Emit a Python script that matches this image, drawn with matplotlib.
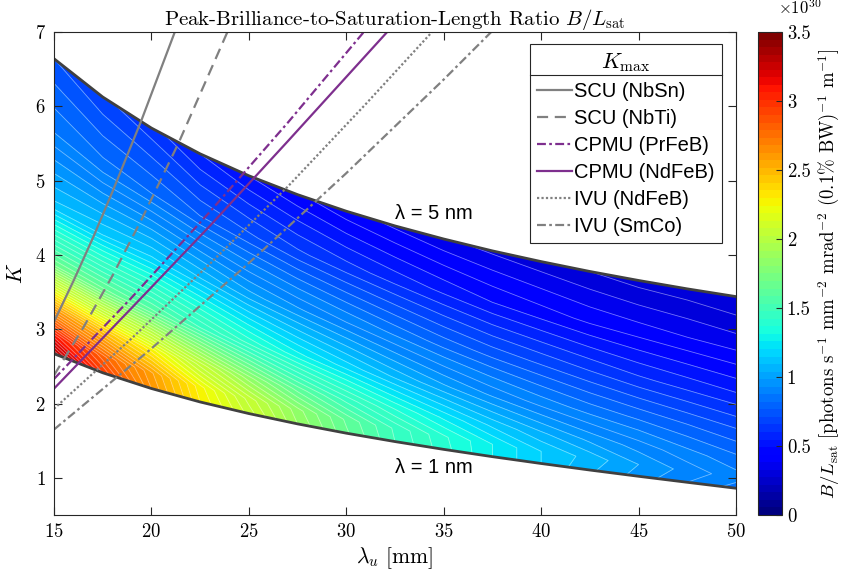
import numpy as np
import matplotlib.pyplot as plt
from matplotlib.lines import Line2D
from matplotlib.cm import ScalarMappable
from matplotlib.colors import Normalize
from matplotlib.ticker import FormatStrFormatter

plt.rcParams['font.family'] = 'cmr10'
plt.rcParams['mathtext.fontset'] = 'cm'
plt.rcParams['axes.formatter.use_mathtext'] = True
plt.rcParams['axes.unicode_minus'] = False

# undulator period [mm] and resonant K on the two wavelength limits
lam_u = [15, 17.5, 20, 22.5, 25, 27.5, 30, 32.5, 35, 37.5, 40, 42.5, 45, 47.5, 50]
k_1nm = [2.670, 2.414, 2.202, 2.021, 1.865, 1.726, 1.601, 1.488, 1.383, 1.285,
         1.193, 1.105, 1.021, 0.940, 0.860]
k_5nm = [6.640, 6.125, 5.707, 5.360, 5.065, 4.811, 4.588, 4.390, 4.214, 4.054,
         3.910, 3.777, 3.656, 3.543, 3.439]

# B/Lsat in units of 1e30, row by row from the 1 nm edge (0) to the 5 nm edge (1)
band_frac = [0, 0.06, 0.15, 0.3, 0.5, 0.75, 1.0]
ratio_f000 = [3.35, 2.95, 2.60, 2.30, 2.08, 1.85, 1.66, 1.50, 1.37, 1.25, 1.15, 1.06, 0.98, 0.90, 0.83]
ratio_f006 = [3.08, 2.82, 2.56, 2.27, 2.03, 1.82, 1.64, 1.49, 1.36, 1.25, 1.15, 1.08, 1.00, 0.93, 0.87]
ratio_f015 = [2.58, 2.44, 2.27, 2.03, 1.82, 1.63, 1.48, 1.35, 1.24, 1.14, 1.06, 0.99, 0.93, 0.87, 0.82]
ratio_f030 = [1.70, 1.67, 1.61, 1.50, 1.38, 1.27, 1.18, 1.09, 1.01, 0.94, 0.88, 0.83, 0.79, 0.75, 0.71]
ratio_f050 = [1.12, 1.15, 1.16, 1.10, 1.02, 0.96, 0.90, 0.84, 0.78, 0.73, 0.69, 0.65, 0.61, 0.58, 0.55]
ratio_f075 = [0.85, 0.82, 0.80, 0.75, 0.71, 0.66, 0.62, 0.58, 0.54, 0.50, 0.47, 0.44, 0.42, 0.40, 0.38]
ratio_f100 = [0.70, 0.66, 0.62, 0.55, 0.50, 0.46, 0.42, 0.39, 0.36, 0.34, 0.32, 0.30, 0.28, 0.27, 0.25]

# K_max curves of the undulator technologies
scu_nbsn_lu = [15, 16, 17, 18, 19.5, 21.2]
scu_nbsn_k = [3.10, 3.65, 4.23, 4.85, 5.82, 7.0]
scu_nbti_lu = [15, 16.5, 18, 19.5, 21.4, 23.9]
scu_nbti_k = [2.38, 3.02, 3.72, 4.48, 5.51, 7.0]
cpmu_prfeb_lu = [15, 19, 23, 27, 30.9]
cpmu_prfeb_k = [2.33, 3.43, 4.58, 5.78, 7.0]
cpmu_ndfeb_lu = [15, 19, 23, 27, 32.1]
cpmu_ndfeb_k = [2.20, 3.29, 4.39, 5.53, 7.0]
ivu_ndfeb_lu = [15, 19, 23, 27, 31, 34.4]
ivu_ndfeb_k = [1.93, 2.88, 3.88, 4.92, 6.03, 7.0]
ivu_smco_lu = [15, 20, 25, 30, 35, 37.44]
ivu_smco_k = [1.65, 2.74, 3.89, 5.10, 6.36, 7.0]

gray = (0.5, 0.5, 0.5)
purple = (0.494, 0.184, 0.556)
dark = (0.15, 0.15, 0.15)

fig = plt.figure(figsize=(8.45, 5.74), dpi=100)
ax = fig.add_axes([0.0639, 0.1028, 0.8071, 0.8415])
cax = fig.add_axes([0.897, 0.1028, 0.0284, 0.8415])

# curvilinear grid spanning the band
lu = np.array(lam_u)
lo = np.array(k_1nm)
hi = np.array(k_5nm)
fr = np.array(band_frac)[:, None]
X = np.tile(lu, (len(band_frac), 1))
Y = lo + fr * (hi - lo)
Z = np.array([ratio_f000, ratio_f006, ratio_f015, ratio_f030,
              ratio_f050, ratio_f075, ratio_f100])

cmap = plt.get_cmap('jet', 64)
norm = Normalize(0, 3.5)
levels = np.arange(0, 3.55, 0.05)
ax.contourf(X, Y, Z, levels=levels, cmap=cmap, norm=norm)
ax.contour(X, Y, Z, levels=levels, colors='white', linewidths=0.6, alpha=0.45)

ax.plot(lam_u, k_1nm, color=(0.25, 0.25, 0.25), lw=2)
ax.plot(lam_u, k_5nm, color=(0.25, 0.25, 0.25), lw=2)

ax.plot(scu_nbsn_lu, scu_nbsn_k, color=gray, lw=1.6, label='SCU (NbSn)')
ax.plot(scu_nbti_lu, scu_nbti_k, color=gray, lw=1.6, ls=(0, (5, 3)), label='SCU (NbTi)')
ax.plot(cpmu_prfeb_lu, cpmu_prfeb_k, color=purple, lw=1.6, ls=(0, (4, 1.5, 1.2, 1.5)),
        label='CPMU (PrFeB)')
ax.plot(cpmu_ndfeb_lu, cpmu_ndfeb_k, color=purple, lw=1.6, label='CPMU (NdFeB)')
ax.plot(ivu_ndfeb_lu, ivu_ndfeb_k, color=gray, lw=1.6, ls=(0, (1, 1)), label='IVU (NdFeB)')
ax.plot(ivu_smco_lu, ivu_smco_k, color=gray, lw=1.6, ls=(0, (4, 1.5, 1.2, 1.5)),
        label='IVU (SmCo)')

ax.text(34.5, 4.56, '\u03bb = 5 nm', family='Liberation Sans', fontsize=14.5,
        ha='center', va='center')
ax.text(34.5, 1.14, '\u03bb = 1 nm', family='Liberation Sans', fontsize=14.5,
        ha='center', va='center')

ax.set_xlim(15, 50)
ax.set_ylim(0.5, 7)
ax.set_xticks(range(15, 51, 5))
ax.set_yticks(range(1, 8))
ax.tick_params(direction='in', top=True, right=True, labelsize=13.5, length=6,
               color=dark, pad=6)
for s in ax.spines.values():
    s.set_color(dark)
ax.set_xlabel(r'$\lambda_u$ [mm]', fontsize=15.5, labelpad=3)
ax.set_ylabel(r'$K$', fontsize=15.5, labelpad=6)
ax.set_title(r'Peak-Brilliance-to-Saturation-Length Ratio $B/L_{\rm sat}$', fontsize=15, pad=5)

leg = ax.legend(loc='upper right', bbox_to_anchor=(0.9795, 0.975),
                prop={'family': 'Liberation Sans', 'size': 14.5},
                title=r'$K_{\rm max}$', title_fontsize=16, fancybox=False, framealpha=1,
                edgecolor=dark, handlelength=1.75, handletextpad=0.1, labelspacing=0.4,
                borderpad=0.35, borderaxespad=0)
leg.get_frame().set_linewidth(0.8)

sm = ScalarMappable(norm=norm, cmap=cmap)
cb = fig.colorbar(sm, cax=cax)
cb.set_ticks(np.arange(0, 3.6, 0.5))
cb.ax.yaxis.set_major_formatter(FormatStrFormatter('%g'))
cb.ax.tick_params(direction='in', labelsize=13.5, length=4, color=dark)
cb.outline.set_edgecolor(dark)
cb.set_label(r'$B/L_{\rm sat}$ [photons s$^{-1}$ mm$^{-2}$ mrad$^{-2}$ (0.1% BW)$^{-1}$ m$^{-1}$]',
             fontsize=13.5, labelpad=4)
cax.text(0.85, 1.03, r'$\times10^{30}$', transform=cax.transAxes, fontsize=12,
         ha='left', va='bottom')

# separator under the legend title
fig.canvas.draw()
lb = leg.get_window_extent()
tb = leg.get_title().get_window_extent()
ysep = tb.y0 - 1
fig.add_artist(Line2D([lb.x0, lb.x1], [ysep, ysep], transform=None, color=dark, lw=0.8))

fig.savefig('out.png', dpi=100)
